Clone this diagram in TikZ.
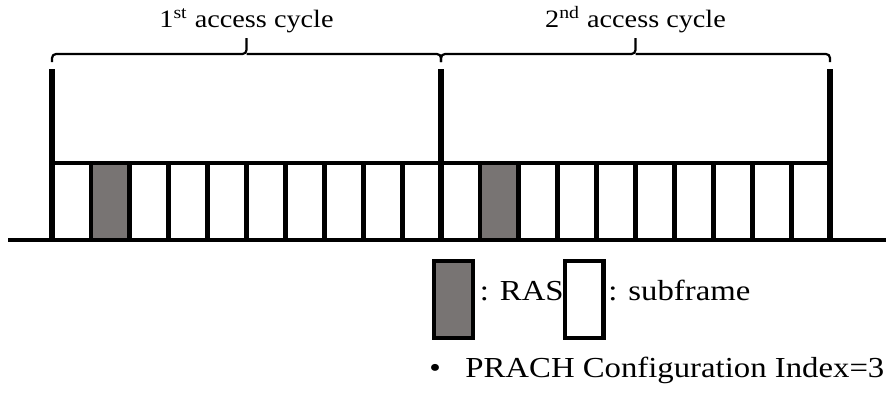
\documentclass[tikz,border=0pt]{standalone}
\usepackage{fontspec}
\setmainfont{Liberation Serif}[FakeStretch=1.13]
\usetikzlibrary{positioning}

\definecolor{rasgray}{HTML}{787473}

\begin{document}
\begin{tikzpicture}[
  x=0.5pt, y=0.5pt,
  axis/.style={line width=2.2pt},
  bound/.style={line width=3.4pt},
  slot/.style={line width=2.4pt},
  brc/.style={line width=1.1pt, rounded corners=2pt},
  lbl/.style={font=\fontsize{12.5}{15}\selectfont, anchor=base, inner sep=0},
  key/.style={draw, line width=2.2pt, minimum width=19.3pt, minimum height=38.3pt, inner sep=0},
  keytxt/.style={font=\fontsize{14.5}{17}\selectfont, anchor=base west, inner sep=0},
]
  \useasboundingbox (0,0) rectangle (886,398);
  \def\cyc{389}   % one access cycle
  \def\sf{38.9}   % one subframe

  % --- subframes, RAS in the second one of each cycle ---
  \foreach \c in {0,1} {
    \fill[rasgray] ({52+\cyc*\c+\sf},158) rectangle ({52+\cyc*\c+2*\sf},235);
    \foreach \k in {1,...,9}
      \draw[slot] ({52+\cyc*\c+\sf*\k},158) -- ++(0,77);
  }
  \draw[axis] (52,235) -- (830,235);
  \draw[axis] (8,158) -- (886,158);
  \foreach \x in {52,441,830}
    \draw[bound] (\x,158) -- (\x,329);

  % --- cycle braces ---
  \foreach \c/\n in {0/1\textsuperscript{st}, 1/2\textsuperscript{nd}} {
    \draw[brc] ({52+\cyc*\c},336) |- ({52+\cyc*\c+194.5},344) -- ++(0,16);
    \draw[brc] ({52+\cyc*\c+194.5},344) -| ({52+\cyc*\c+\cyc},336);
    \node[lbl] (cyc\c) at ({52+\cyc*\c+194.5},371) {\n{} access cycle};
  }

  % --- legend ---
  \node[key, fill=rasgray] (raskey) at (453.5,98.5) {};
  \node[keytxt] (raslbl) at (479.5,98) {: RAS};
  \node[key, fill=white] (sfkey) at (584,98.5) {};
  \node[keytxt] (sflbl) at (608,98) {: subframe};
  \node[keytxt, anchor=base] (dot) at (435,21) {\textbullet};
  \node[keytxt] (idx) at (465,21) {PRACH Configuration Index=3};
\end{tikzpicture}
\end{document}
